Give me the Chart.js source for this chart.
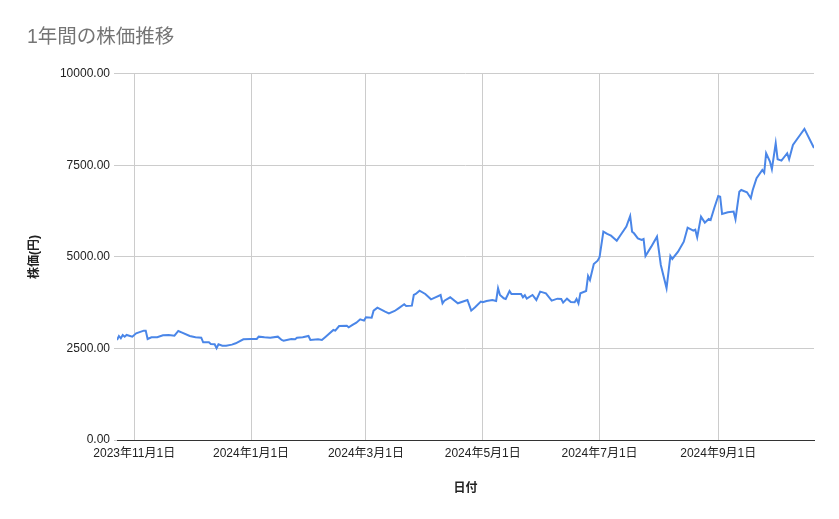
<!DOCTYPE html>
<html>
<head>
<meta charset="utf-8">
<script src="https://cdn.jsdelivr.net/npm/chart.js@4"></script>
<style>
  body { margin: 0; background: #fff; }
  #wrap { width: 839px; height: 519px; }
</style>
</head>
<body>
<div id="wrap"><canvas id="myChart" width="839" height="519"></canvas></div>
<script>
const FONT = "'Liberation Sans', Arial, 'Noto Sans CJK JP', sans-serif";

const TITLE = '1年間の株価推移';
const X_TITLE = '日付';
const Y_TITLE = '株価(円)';

const dates = [
  '2023-10-23','2023-10-24','2023-10-25','2023-10-26','2023-10-27','2023-10-28','2023-10-31','2023-11-02','2023-11-06','2023-11-07',
  '2023-11-08','2023-11-10','2023-11-13','2023-11-16','2023-11-19','2023-11-22','2023-11-24','2023-11-26','2023-11-30','2023-12-03',
  '2023-12-06','2023-12-07','2023-12-10','2023-12-11','2023-12-13','2023-12-14','2023-12-15','2023-12-17','2023-12-19','2023-12-22',
  '2023-12-24','2023-12-28','2024-01-01','2024-01-04','2024-01-05','2024-01-08','2024-01-11','2024-01-15','2024-01-17','2024-01-18',
  '2024-01-22','2024-01-24','2024-01-25','2024-01-28','2024-01-31','2024-02-01','2024-02-05','2024-02-07','2024-02-09','2024-02-13',
  '2024-02-14','2024-02-16','2024-02-20','2024-02-21','2024-02-23','2024-02-25','2024-02-27','2024-02-29','2024-03-01','2024-03-04',
  '2024-03-05','2024-03-07','2024-03-11','2024-03-13','2024-03-16','2024-03-18','2024-03-21','2024-03-22','2024-03-25','2024-03-26',
  '2024-03-27','2024-03-29','2024-04-01','2024-04-04','2024-04-06','2024-04-09','2024-04-10','2024-04-11','2024-04-14','2024-04-18',
  '2024-04-23','2024-04-25','2024-04-27','2024-04-30','2024-05-01','2024-05-03','2024-05-06','2024-05-08','2024-05-09','2024-05-10',
  '2024-05-12','2024-05-13','2024-05-15','2024-05-16','2024-05-21','2024-05-22','2024-05-23','2024-05-24','2024-05-27','2024-05-29',
  '2024-05-31','2024-06-03','2024-06-06','2024-06-09','2024-06-11','2024-06-12','2024-06-14','2024-06-16','2024-06-18','2024-06-19',
  '2024-06-20','2024-06-21','2024-06-24','2024-06-25','2024-06-26','2024-06-28','2024-06-30','2024-07-01','2024-07-03','2024-07-05',
  '2024-07-07','2024-07-10','2024-07-12','2024-07-15','2024-07-17','2024-07-18','2024-07-19','2024-07-21','2024-07-23','2024-07-24',
  '2024-07-25','2024-07-28','2024-07-31','2024-08-02','2024-08-05','2024-08-07','2024-08-08','2024-08-11','2024-08-14','2024-08-16',
  '2024-08-19','2024-08-20','2024-08-21','2024-08-23','2024-08-25','2024-08-27','2024-08-28','2024-08-30','2024-09-01','2024-09-02',
  '2024-09-03','2024-09-06','2024-09-09','2024-09-10','2024-09-12','2024-09-13','2024-09-16','2024-09-18','2024-09-19','2024-09-21',
  '2024-09-24','2024-09-25','2024-09-26','2024-09-28','2024-09-29','2024-10-01','2024-10-02','2024-10-04','2024-10-07','2024-10-08',
  '2024-10-10','2024-10-14','2024-10-16','2024-10-21'
];

const prices = [
  2732, 2841, 2777, 2869, 2823, 2869, 2823, 2914, 2987, 2987,
  2759, 2805, 2805, 2860, 2869, 2850, 2978, 2932, 2841, 2805,
  2796, 2669, 2669, 2623, 2614, 2505, 2614, 2577, 2577, 2605,
  2641, 2750, 2759, 2759, 2823, 2805, 2796, 2823, 2732, 2714,
  2759, 2750, 2796, 2805, 2841, 2732, 2750, 2732, 2823, 3005,
  2987, 3114, 3123, 3078, 3142, 3205, 3297, 3260, 3351, 3342,
  3533, 3615, 3505, 3460, 3524, 3597, 3707, 3661, 3670, 3961,
  3989, 4080, 3989, 3843, 3889, 3961, 3734, 3806, 3898, 3734,
  3825, 3533, 3624, 3779, 3761, 3798, 3825, 3798, 4144, 3961,
  3871, 3852, 4071, 3989, 3989, 3898, 3953, 3861, 3961, 3825,
  4052, 4007, 3806, 3861, 3852, 3752, 3861, 3770, 3761, 3852,
  3734, 4007, 4071, 4481, 4371, 4808, 4899, 4991, 5691, 5628,
  5582, 5445, 5600, 5828, 6120, 5691, 5646, 5509, 5464, 5491,
  5027, 5282, 5555, 4781, 4144, 5027, 4945, 5145, 5418, 5800,
  5718, 5746, 5537, 6101, 5937, 6038, 6010, 6350, 6666, 6647,
  6174, 6220, 6238, 6030, 6784, 6830, 6767, 6603, 6830, 7150,
  7377, 7303, 7833, 7604, 7396, 8106, 7669, 7632, 7833, 7669,
  8060, 8352, 8497, 7978
];

const xTickDates = ['2023-11-01', '2024-01-01', '2024-03-01', '2024-05-01', '2024-07-01', '2024-09-01'];
const yTicks = [0, 2500, 5000, 7500, 10000];

const DAY = 86400000;
function toDay(s) {
  const p = s.split('-').map(Number);
  return Date.UTC(p[0], p[1] - 1, p[2]) / DAY;
}
function dayLabel(v) {
  const d = new Date(v * DAY);
  return d.getUTCFullYear() + '年' + (d.getUTCMonth() + 1) + '月' + d.getUTCDate() + '日';
}

const points = [];
for (let i = 0; i < Math.min(dates.length, prices.length); i++) {
  points.push({ x: toDay(dates[i]), y: prices[i] });
}
const xTicks = xTickDates.map(toDay);

const ctx = document.getElementById('myChart');

new Chart(ctx, {
  type: 'line',
  data: {
    datasets: [{
      label: Y_TITLE,
      data: points,
      borderColor: '#4a86e8',
      backgroundColor: '#4a86e8',
      borderWidth: 2,
      pointRadius: 0,
      tension: 0
    }]
  },
  options: {
    responsive: false,
    animation: false,
    layout: { padding: { left: 27, right: 25, top: 0, bottom: 0 } },
    plugins: {
      legend: { display: false },
      tooltip: { enabled: false },
      title: {
        display: true,
        text: TITLE,
        align: 'start',
        color: '#757575',
        font: { family: FONT, size: 19.5, weight: 'normal' },
        padding: { top: 26, bottom: 24.5 }
      }
    },
    scales: {
      x: {
        type: 'linear',
        min: points[0].x,
        max: points[points.length - 1].x,
        afterBuildTicks: (scale) => {
          scale.ticks = xTicks.map(v => ({ value: v }));
        },
        afterFit: (scale) => { scale.height = 79; },
        border: { display: true, color: '#333333', width: 1 },
        grid: { color: '#cccccc', drawTicks: false },
        ticks: {
          autoSkip: false,
          maxRotation: 0,
          padding: 6,
          color: '#222222',
          font: { family: FONT, size: 12 },
          callback: (v) => dayLabel(v)
        },
        title: {
          display: true,
          text: X_TITLE,
          color: '#222222',
          font: { family: FONT, size: 12, weight: 'bold' },
          padding: { top: 0, bottom: 23 }
        }
      },
      y: {
        min: 0,
        max: 10000,
        afterBuildTicks: (scale) => {
          scale.ticks = yTicks.map(v => ({ value: v }));
        },
        afterFit: (scale) => { scale.width = 90; },
        border: { display: false },
        grid: { color: '#cccccc', drawTicks: true, tickLength: 3, tickColor: '#cccccc' },
        ticks: {
          padding: 4,
          color: '#222222',
          font: { family: FONT, size: 12 },
          callback: (v) => Number(v).toFixed(2)
        },
        title: {
          display: true,
          text: Y_TITLE,
          color: '#222222',
          font: { family: FONT, size: 12, weight: 'bold' },
          padding: { top: 0, bottom: 0 }
        }
      }
    }
  }
});
</script>
</body>
</html>
